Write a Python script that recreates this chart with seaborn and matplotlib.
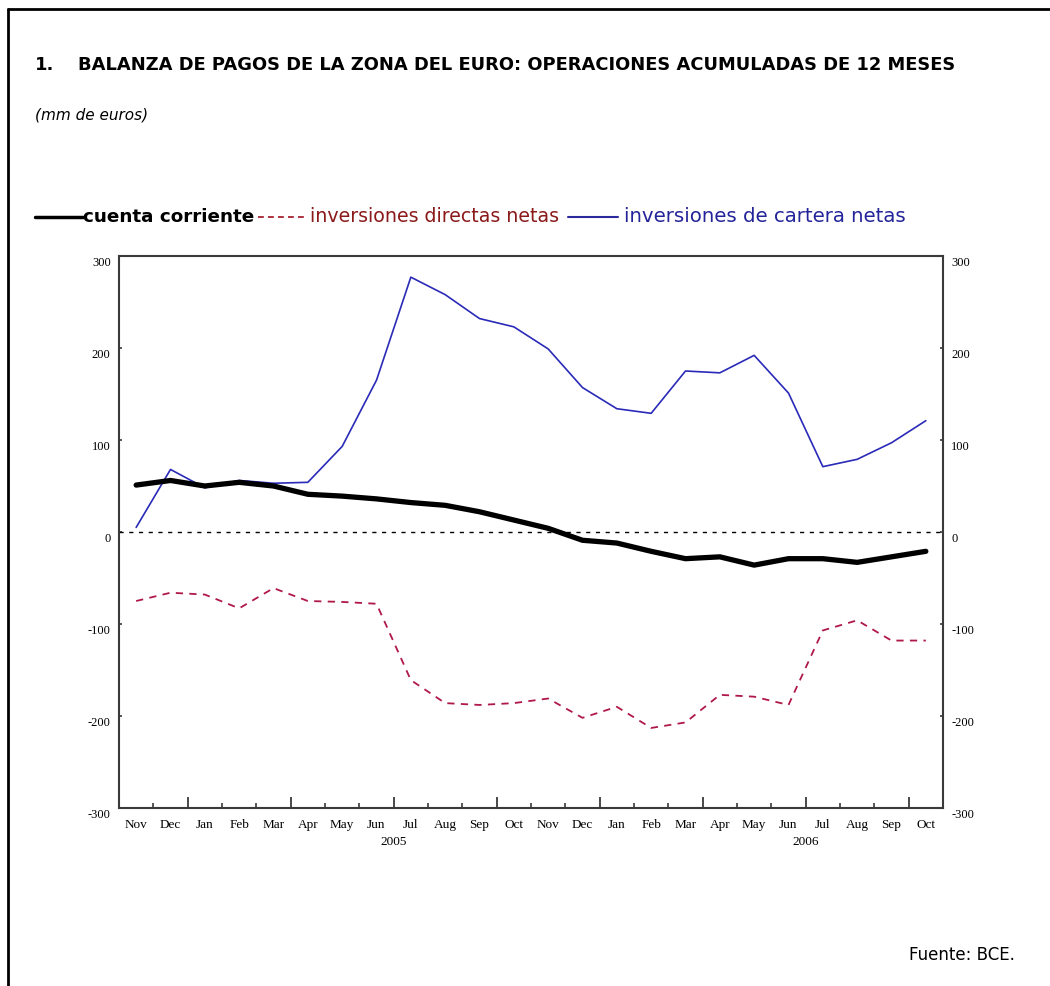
import numpy as np
import pandas as pd
import matplotlib
matplotlib.use("Agg")
import matplotlib.pyplot as plt
import matplotlib.transforms as mtransforms
from matplotlib.lines import Line2D
import seaborn as sns

# --- data (mm de euros), Nov 2004 .. Oct 2006 ---
months = ["Nov", "Dec", "Jan", "Feb", "Mar", "Apr", "May", "Jun", "Jul", "Aug", "Sep", "Oct",
          "Nov", "Dec", "Jan", "Feb", "Mar", "Apr", "May", "Jun", "Jul", "Aug", "Sep", "Oct"]
years = ["2005", "2006"]
year_pos = [8, 20]          # month boundary (Jul) under which the year sits
cuenta_corriente = [51, 56, 50, 54, 50, 41, 39, 36, 32, 29, 22, 13,
                    4, -9, -12, -21, -29, -27, -36, -29, -29, -33, -27, -21]
inv_directas = [-75, -66, -68, -83, -61, -75, -76, -78, -161, -186, -188, -186,
                -181, -202, -190, -213, -207, -177, -179, -188, -107, -96, -118, -118]
inv_cartera = [5, 68, 48, 56, 53, 54, 93, 165, 277, 258, 232, 223,
               199, 157, 134, 129, 175, 173, 192, 151, 71, 79, 97, 121]
yticks = [-300, -200, -100, 0, 100, 200, 300]

W, H = 1050, 986

def fx(px):
    return px / W

def fy(py):
    return 1 - py / H

sns.set_style("white")
plt.rcParams['font.family'] = ['DejaVu Sans']
plt.rcParams['text.color'] = 'black'
plt.rcParams['xtick.color'] = 'black'
plt.rcParams['ytick.color'] = 'black'

df = pd.DataFrame({
    "mes": np.arange(len(months)) + 0.5,
    "cuenta": cuenta_corriente,
    "directas": inv_directas,
    "cartera": inv_cartera,
})

fig = plt.figure(figsize=(W / 100, H / 100), dpi=100)
ax = fig.add_axes([fx(119), fy(808), fx(943) - fx(119), fy(256) - fy(808)])

ax.axhline(0, color="black", lw=1, linestyle=(0, (3, 4)))
sns.lineplot(data=df, x="mes", y="directas", ax=ax, color="#b01848", lw=1.3,
             linestyle=(0, (4, 3.5)))
sns.lineplot(data=df, x="mes", y="cartera", ax=ax, color="#2a2ab8", lw=1.2)
sns.lineplot(data=df, x="mes", y="cuenta", ax=ax, color="black", lw=3.8)

ax.set_xlim(0, len(months))
ax.set_ylim(-300, 300)
ax.set_xlabel("")
ax.set_ylabel("")

for s in ax.spines.values():
    s.set_visible(True)
    s.set_color("#3a3a3a")
    s.set_linewidth(1.5)

# month boundaries: quarter starts longer
bounds = np.arange(1, len(months))
major = [b for b in bounds if months[b] in ("Jan", "Apr", "Jul", "Oct")]
minor = [b for b in bounds if b not in major]
ax.set_xticks(major)
ax.set_xticks(minor, minor=True)
ax.tick_params(axis="x", which="major", direction="in", length=8, width=1.3,
               color="#3a3a3a", bottom=True, labelbottom=False)
ax.tick_params(axis="x", which="minor", direction="in", length=3.5, width=1.2,
               color="#3a3a3a", bottom=True)

ax.set_yticks(yticks)
ax.set_yticklabels([str(v) for v in yticks])
ax.tick_params(axis="y", direction="in", length=2, width=1.2, color="#3a3a3a",
               left=True, right=True, labelleft=True, labelright=True,
               labelsize=9, pad=6)
shift = mtransforms.ScaledTranslation(0, -6 / 100, fig.dpi_scale_trans)
for t in ax.yaxis.get_major_ticks():
    t.label1.set_transform(t.label1.get_transform() + shift)
    t.label2.set_transform(t.label2.get_transform() + shift)
    t.label1.set_fontfamily("Liberation Serif")
    t.label2.set_fontfamily("Liberation Serif")

trans = mtransforms.blended_transform_factory(ax.transData, ax.transAxes)
for i, m in enumerate(months):
    ax.text(i + 0.5, -17 / 552, m, transform=trans, ha="center", va="center",
            fontsize=9.5, family="Liberation Serif")
for yp, yl in zip(year_pos, years):
    ax.text(yp, -34 / 552, yl, transform=trans, ha="center", va="center",
            fontsize=9.5, family="Liberation Serif")

# page frame (left and top only)
fig.add_artist(Line2D([fx(8), fx(8)], [0, fy(9)], transform=fig.transFigure,
                      color="black", lw=2))
fig.add_artist(Line2D([fx(8), 1], [fy(9), fy(9)], transform=fig.transFigure,
                      color="black", lw=2))

# title and subtitle
fig.text(fx(35), fy(65), "1.", fontsize=12.9, fontweight="bold", va="center")
fig.text(fx(78), fy(65),
         "BALANZA DE PAGOS DE LA ZONA DEL EURO: OPERACIONES ACUMULADAS DE 12 MESES",
         fontsize=12.9, fontweight="bold", va="center")
fig.text(fx(35), fy(115), "(mm de euros)", fontsize=11, style="italic", va="center")

# legend row
ly = fy(217)
fig.add_artist(Line2D([fx(35), fx(83)], [ly, ly], transform=fig.transFigure,
                      color="black", lw=2.5))
fig.text(fx(83), ly, "cuenta corriente", fontsize=13.2, fontweight="bold",
         va="center", color="black")
fig.add_artist(Line2D([fx(258), fx(305)], [ly, ly], transform=fig.transFigure,
                      color="#a01020", lw=1.2, linestyle=(0, (3.5, 2.5))))
fig.text(fx(310), ly, "inversiones directas netas", fontsize=13.7,
         va="center", color="#8b1a1a")
fig.add_artist(Line2D([fx(568), fx(618)], [ly, ly], transform=fig.transFigure,
                      color="#2a2aa0", lw=1.5))
fig.text(fx(624), ly, "inversiones de cartera netas", fontsize=14.2,
         va="center", color="#24249a")

fig.text(fx(1015), fy(955), "Fuente: BCE.", fontsize=12, ha="right", va="center")

fig.savefig("out.png", dpi=100)
